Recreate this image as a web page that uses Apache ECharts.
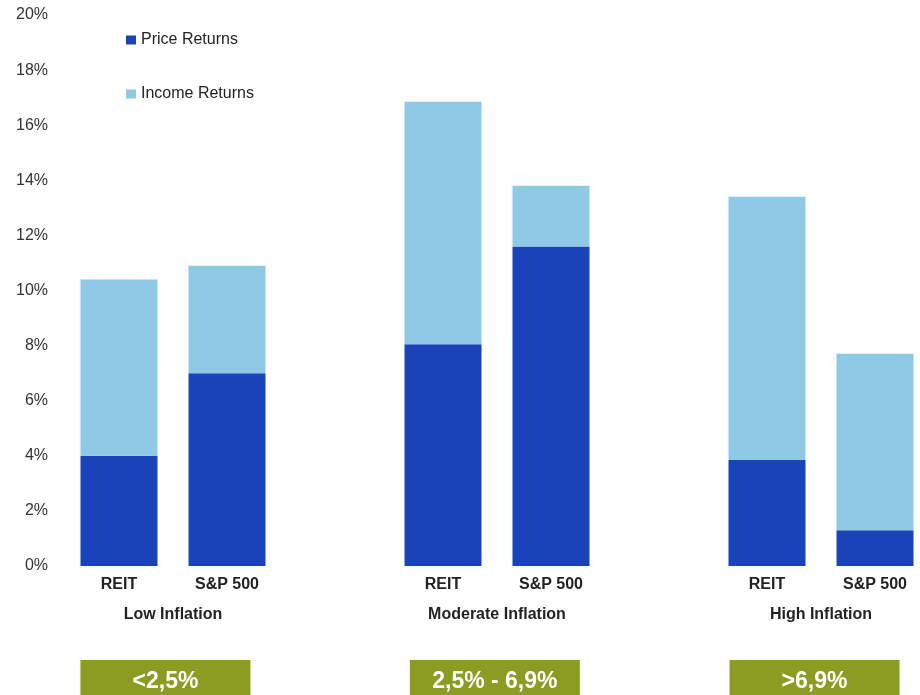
<!DOCTYPE html>
<html>
<head>
<meta charset="utf-8">
<script src="https://cdn.jsdelivr.net/npm/echarts@6/dist/echarts.min.js"></script>
<style>
html,body{margin:0;padding:0;background:#fff;}
#c{width:920px;height:695px;}
</style>
</head>
<body>
<div id="c"></div>
<script>
var categories = ['REIT', 'S&P 500', '', 'REIT', 'S&P 500', '', 'REIT', 'S&P 500'];
var priceReturns = [4.0, 7.0, null, 8.05, 11.6, null, 3.85, 1.3];
var incomeReturns = [6.4, 3.9, null, 8.8, 2.2, null, 9.55, 6.4];
var groupNames = ['Low Inflation', 'Moderate Inflation', 'High Inflation'];
var inflationRanges = ['<2,5%', '2,5% - 6,9%', '>6,9%'];
var yTicks = [0, 2, 4, 6, 8, 10, 12, 14, 16, 18, 20];

var SANS = "'Liberation Sans', Arial, sans-serif";
var chart = echarts.init(document.getElementById('c'), null, {renderer: 'canvas'});

// label anchor positions (in category units) for the group captions and the range boxes
var groupCenters = [0.5, 3.5, 6.5];
var boxCenters = [0.43, 3.48, 6.44];

function lookup(centers, arr) {
  return function (v) {
    for (var i = 0; i < centers.length; i++) {
      if (Math.abs(centers[i] - v) < 1e-6) return arr[i];
    }
    return '';
  };
}

var option = {
  backgroundColor: '#ffffff',
  animation: false,
  legend: {
    orient: 'vertical',
    left: 126,
    top: 32,
    padding: 0,
    itemWidth: 10,
    itemHeight: 9,
    itemGap: 38,
    icon: 'rect',
    textStyle: {color: '#222', fontSize: 16, fontFamily: SANS},
    data: ['Price Returns', 'Income Returns']
  },
  grid: {left: 65, right: -9, top: 15, bottom: 129, containLabel: false, outerBoundsMode: 'none'},
  xAxis: [
    {
      type: 'category',
      data: categories,
      axisLine: {show: false},
      axisTick: {show: false},
      axisLabel: {margin: 11, color: '#222', fontSize: 16, fontWeight: 'bold', fontFamily: SANS, interval: 0}
    },
    {
      type: 'value',
      min: -0.5, max: 7.5,
      position: 'bottom',
      axisLine: {show: false},
      axisTick: {show: false},
      splitLine: {show: false},
      axisLabel: {
        margin: 41, color: '#222', fontSize: 16, fontWeight: 'bold', fontFamily: SANS,
        customValues: groupCenters,
        formatter: lookup(groupCenters, groupNames)
      }
    },
    {
      type: 'value',
      min: -0.5, max: 7.5,
      position: 'bottom',
      axisLine: {show: false},
      axisTick: {show: false},
      splitLine: {show: false},
      axisLabel: {
        margin: 94, color: '#ffffff', fontSize: 23, fontWeight: 'bold',
        fontFamily: SANS,
        backgroundColor: '#8a9c22',
        width: 170, height: 44, lineHeight: 44, align: 'center', verticalAlign: 'top',
        customValues: boxCenters,
        formatter: lookup(boxCenters, inflationRanges)
      }
    }
  ],
  yAxis: {
    type: 'value',
    min: 0, max: 20, interval: 2,
    axisLine: {show: false},
    axisTick: {show: false},
    splitLine: {show: false},
    axisLabel: {margin: 17, color: '#333', fontSize: 16, fontFamily: SANS, formatter: '{value}%'}
  },
  series: [
    {
      name: 'Price Returns', type: 'bar', stack: 'r', barWidth: 77,
      itemStyle: {color: '#1b43b9'},
      data: priceReturns
    },
    {
      name: 'Income Returns', type: 'bar', stack: 'r', barWidth: 77,
      itemStyle: {color: '#8ec9e6'},
      data: incomeReturns
    }
  ]
};
chart.setOption(option);
</script>
</body>
</html>
